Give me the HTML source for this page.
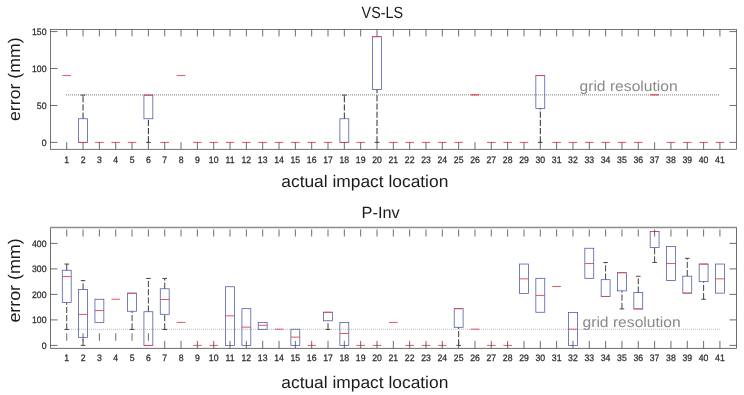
<!DOCTYPE html>
<html><head><meta charset="utf-8"><title>VS-LS / P-Inv error box plots</title>
<style>
html,body{margin:0;padding:0;background:#fff;}
body{width:744px;height:395px;overflow:hidden;}
svg{display:block;font-family:"Liberation Sans",sans-serif;text-rendering:geometricPrecision;}
</style></head><body>
<svg width="744" height="395" viewBox="0 0 744 395">
<rect width="744" height="395" fill="#fff"/>
<line x1="66.00" y1="94.85" x2="720.00" y2="94.85" stroke="#989898" stroke-width="1.1" stroke-dasharray="1 1"/>
<line x1="62.43" y1="75.55" x2="71.03" y2="75.55" stroke="#e2434a" stroke-width="0.9" />
<line x1="83.06" y1="118.76" x2="83.06" y2="95.12" stroke="#2c2c2c" stroke-width="1.0" stroke-dasharray="6.2 2"/>
<line x1="80.76" y1="95.12" x2="85.36" y2="95.12" stroke="#2c2c2c" stroke-width="0.9" />
<rect x="78.61" y="118.76" width="8.90" height="23.64" fill="none" stroke="#4654a4" stroke-width="0.75"/>
<line x1="78.61" y1="142.40" x2="87.51" y2="142.40" stroke="#e2434a" stroke-width="0.9" />
<line x1="95.09" y1="142.40" x2="103.69" y2="142.40" stroke="#e2434a" stroke-width="0.9" />
<line x1="111.42" y1="142.40" x2="120.02" y2="142.40" stroke="#e2434a" stroke-width="0.9" />
<line x1="127.75" y1="142.40" x2="136.35" y2="142.40" stroke="#e2434a" stroke-width="0.9" />
<line x1="148.38" y1="142.40" x2="148.38" y2="118.76" stroke="#2c2c2c" stroke-width="1.0" stroke-dasharray="6.2 2"/>
<line x1="146.08" y1="142.40" x2="150.68" y2="142.40" stroke="#2c2c2c" stroke-width="0.9" />
<rect x="143.93" y="95.12" width="8.90" height="23.64" fill="none" stroke="#4654a4" stroke-width="0.75"/>
<line x1="143.93" y1="95.12" x2="152.83" y2="95.12" stroke="#e2434a" stroke-width="0.9" />
<line x1="160.41" y1="142.40" x2="169.01" y2="142.40" stroke="#e2434a" stroke-width="0.9" />
<line x1="176.74" y1="75.55" x2="185.34" y2="75.55" stroke="#e2434a" stroke-width="0.9" />
<line x1="193.07" y1="142.40" x2="201.67" y2="142.40" stroke="#e2434a" stroke-width="0.9" />
<line x1="209.40" y1="142.40" x2="218.00" y2="142.40" stroke="#e2434a" stroke-width="0.9" />
<line x1="225.73" y1="142.40" x2="234.33" y2="142.40" stroke="#e2434a" stroke-width="0.9" />
<line x1="242.06" y1="142.40" x2="250.66" y2="142.40" stroke="#e2434a" stroke-width="0.9" />
<line x1="258.39" y1="142.40" x2="266.99" y2="142.40" stroke="#e2434a" stroke-width="0.9" />
<line x1="274.72" y1="142.40" x2="283.32" y2="142.40" stroke="#e2434a" stroke-width="0.9" />
<line x1="291.05" y1="142.40" x2="299.65" y2="142.40" stroke="#e2434a" stroke-width="0.9" />
<line x1="307.38" y1="142.40" x2="315.98" y2="142.40" stroke="#e2434a" stroke-width="0.9" />
<line x1="323.71" y1="142.40" x2="332.31" y2="142.40" stroke="#e2434a" stroke-width="0.9" />
<line x1="344.34" y1="118.76" x2="344.34" y2="95.12" stroke="#2c2c2c" stroke-width="1.0" stroke-dasharray="6.2 2"/>
<line x1="342.04" y1="95.12" x2="346.64" y2="95.12" stroke="#2c2c2c" stroke-width="0.9" />
<rect x="339.89" y="118.76" width="8.90" height="23.64" fill="none" stroke="#4654a4" stroke-width="0.75"/>
<line x1="339.89" y1="142.40" x2="348.79" y2="142.40" stroke="#e2434a" stroke-width="0.9" />
<line x1="356.37" y1="142.40" x2="364.97" y2="142.40" stroke="#e2434a" stroke-width="0.9" />
<line x1="377.00" y1="142.40" x2="377.00" y2="89.55" stroke="#2c2c2c" stroke-width="1.0" stroke-dasharray="6.2 2"/>
<line x1="374.70" y1="142.40" x2="379.30" y2="142.40" stroke="#2c2c2c" stroke-width="0.9" />
<rect x="372.55" y="36.69" width="8.90" height="52.85" fill="none" stroke="#4654a4" stroke-width="0.75"/>
<line x1="372.55" y1="36.69" x2="381.45" y2="36.69" stroke="#e2434a" stroke-width="0.9" />
<line x1="389.03" y1="142.40" x2="397.63" y2="142.40" stroke="#e2434a" stroke-width="0.9" />
<line x1="405.36" y1="142.40" x2="413.96" y2="142.40" stroke="#e2434a" stroke-width="0.9" />
<line x1="421.69" y1="142.40" x2="430.29" y2="142.40" stroke="#e2434a" stroke-width="0.9" />
<line x1="438.02" y1="142.40" x2="446.62" y2="142.40" stroke="#e2434a" stroke-width="0.9" />
<line x1="454.35" y1="142.40" x2="462.95" y2="142.40" stroke="#e2434a" stroke-width="0.9" />
<line x1="470.68" y1="94.85" x2="479.28" y2="94.85" stroke="#e2434a" stroke-width="1.3" />
<line x1="487.01" y1="142.40" x2="495.61" y2="142.40" stroke="#e2434a" stroke-width="0.9" />
<line x1="503.34" y1="142.40" x2="511.94" y2="142.40" stroke="#e2434a" stroke-width="0.9" />
<line x1="519.67" y1="142.40" x2="528.27" y2="142.40" stroke="#e2434a" stroke-width="0.9" />
<line x1="540.30" y1="142.40" x2="540.30" y2="108.42" stroke="#2c2c2c" stroke-width="1.0" stroke-dasharray="6.2 2"/>
<line x1="538.00" y1="142.40" x2="542.60" y2="142.40" stroke="#2c2c2c" stroke-width="0.9" />
<rect x="535.85" y="75.55" width="8.90" height="32.87" fill="none" stroke="#4654a4" stroke-width="0.75"/>
<line x1="535.85" y1="75.55" x2="544.75" y2="75.55" stroke="#e2434a" stroke-width="0.9" />
<line x1="552.33" y1="142.40" x2="560.93" y2="142.40" stroke="#e2434a" stroke-width="0.9" />
<line x1="568.66" y1="142.40" x2="577.26" y2="142.40" stroke="#e2434a" stroke-width="0.9" />
<line x1="584.99" y1="142.40" x2="593.59" y2="142.40" stroke="#e2434a" stroke-width="0.9" />
<line x1="601.32" y1="142.40" x2="609.92" y2="142.40" stroke="#e2434a" stroke-width="0.9" />
<line x1="617.65" y1="142.40" x2="626.25" y2="142.40" stroke="#e2434a" stroke-width="0.9" />
<line x1="633.98" y1="142.40" x2="642.58" y2="142.40" stroke="#e2434a" stroke-width="0.9" />
<line x1="650.31" y1="94.85" x2="658.91" y2="94.85" stroke="#e2434a" stroke-width="1.3" />
<line x1="666.64" y1="142.40" x2="675.24" y2="142.40" stroke="#e2434a" stroke-width="0.9" />
<line x1="682.97" y1="142.40" x2="691.57" y2="142.40" stroke="#e2434a" stroke-width="0.9" />
<line x1="699.30" y1="142.40" x2="707.90" y2="142.40" stroke="#e2434a" stroke-width="0.9" />
<line x1="715.63" y1="142.40" x2="724.23" y2="142.40" stroke="#e2434a" stroke-width="0.9" />
<line x1="66.73" y1="29.40" x2="66.73" y2="36.45" stroke="#484848" stroke-width="0.8" />
<line x1="66.73" y1="149.30" x2="66.73" y2="142.20" stroke="#484848" stroke-width="0.8" />
<text transform="translate(66.73,162.70) scale(0.935,1)" font-size="9.3" text-anchor="middle" fill="#2a2a2a" stroke="#2a2a2a" stroke-width="0.25">1</text>
<line x1="83.06" y1="29.40" x2="83.06" y2="36.45" stroke="#484848" stroke-width="0.8" />
<line x1="83.06" y1="149.30" x2="83.06" y2="142.20" stroke="#484848" stroke-width="0.8" />
<text transform="translate(83.06,162.70) scale(0.935,1)" font-size="9.3" text-anchor="middle" fill="#2a2a2a" stroke="#2a2a2a" stroke-width="0.25">2</text>
<line x1="99.39" y1="29.40" x2="99.39" y2="36.45" stroke="#484848" stroke-width="0.8" />
<line x1="99.39" y1="149.30" x2="99.39" y2="142.20" stroke="#484848" stroke-width="0.8" />
<text transform="translate(99.39,162.70) scale(0.935,1)" font-size="9.3" text-anchor="middle" fill="#2a2a2a" stroke="#2a2a2a" stroke-width="0.25">3</text>
<line x1="115.72" y1="29.40" x2="115.72" y2="36.45" stroke="#484848" stroke-width="0.8" />
<line x1="115.72" y1="149.30" x2="115.72" y2="142.20" stroke="#484848" stroke-width="0.8" />
<text transform="translate(115.72,162.70) scale(0.935,1)" font-size="9.3" text-anchor="middle" fill="#2a2a2a" stroke="#2a2a2a" stroke-width="0.25">4</text>
<line x1="132.05" y1="29.40" x2="132.05" y2="36.45" stroke="#484848" stroke-width="0.8" />
<line x1="132.05" y1="149.30" x2="132.05" y2="142.20" stroke="#484848" stroke-width="0.8" />
<text transform="translate(132.05,162.70) scale(0.935,1)" font-size="9.3" text-anchor="middle" fill="#2a2a2a" stroke="#2a2a2a" stroke-width="0.25">5</text>
<line x1="148.38" y1="29.40" x2="148.38" y2="36.45" stroke="#484848" stroke-width="0.8" />
<line x1="148.38" y1="149.30" x2="148.38" y2="142.20" stroke="#484848" stroke-width="0.8" />
<text transform="translate(148.38,162.70) scale(0.935,1)" font-size="9.3" text-anchor="middle" fill="#2a2a2a" stroke="#2a2a2a" stroke-width="0.25">6</text>
<line x1="164.71" y1="29.40" x2="164.71" y2="36.45" stroke="#484848" stroke-width="0.8" />
<line x1="164.71" y1="149.30" x2="164.71" y2="142.20" stroke="#484848" stroke-width="0.8" />
<text transform="translate(164.71,162.70) scale(0.935,1)" font-size="9.3" text-anchor="middle" fill="#2a2a2a" stroke="#2a2a2a" stroke-width="0.25">7</text>
<line x1="181.04" y1="29.40" x2="181.04" y2="36.45" stroke="#484848" stroke-width="0.8" />
<line x1="181.04" y1="149.30" x2="181.04" y2="142.20" stroke="#484848" stroke-width="0.8" />
<text transform="translate(181.04,162.70) scale(0.935,1)" font-size="9.3" text-anchor="middle" fill="#2a2a2a" stroke="#2a2a2a" stroke-width="0.25">8</text>
<line x1="197.37" y1="29.40" x2="197.37" y2="36.45" stroke="#484848" stroke-width="0.8" />
<line x1="197.37" y1="149.30" x2="197.37" y2="142.20" stroke="#484848" stroke-width="0.8" />
<text transform="translate(197.37,162.70) scale(0.935,1)" font-size="9.3" text-anchor="middle" fill="#2a2a2a" stroke="#2a2a2a" stroke-width="0.25">9</text>
<line x1="213.70" y1="29.40" x2="213.70" y2="36.45" stroke="#484848" stroke-width="0.8" />
<line x1="213.70" y1="149.30" x2="213.70" y2="142.20" stroke="#484848" stroke-width="0.8" />
<text transform="translate(213.70,162.70) scale(0.935,1)" font-size="9.3" text-anchor="middle" fill="#2a2a2a" stroke="#2a2a2a" stroke-width="0.25">10</text>
<line x1="230.03" y1="29.40" x2="230.03" y2="36.45" stroke="#484848" stroke-width="0.8" />
<line x1="230.03" y1="149.30" x2="230.03" y2="142.20" stroke="#484848" stroke-width="0.8" />
<text transform="translate(230.03,162.70) scale(0.935,1)" font-size="9.3" text-anchor="middle" fill="#2a2a2a" stroke="#2a2a2a" stroke-width="0.25">11</text>
<line x1="246.36" y1="29.40" x2="246.36" y2="36.45" stroke="#484848" stroke-width="0.8" />
<line x1="246.36" y1="149.30" x2="246.36" y2="142.20" stroke="#484848" stroke-width="0.8" />
<text transform="translate(246.36,162.70) scale(0.935,1)" font-size="9.3" text-anchor="middle" fill="#2a2a2a" stroke="#2a2a2a" stroke-width="0.25">12</text>
<line x1="262.69" y1="29.40" x2="262.69" y2="36.45" stroke="#484848" stroke-width="0.8" />
<line x1="262.69" y1="149.30" x2="262.69" y2="142.20" stroke="#484848" stroke-width="0.8" />
<text transform="translate(262.69,162.70) scale(0.935,1)" font-size="9.3" text-anchor="middle" fill="#2a2a2a" stroke="#2a2a2a" stroke-width="0.25">13</text>
<line x1="279.02" y1="29.40" x2="279.02" y2="36.45" stroke="#484848" stroke-width="0.8" />
<line x1="279.02" y1="149.30" x2="279.02" y2="142.20" stroke="#484848" stroke-width="0.8" />
<text transform="translate(279.02,162.70) scale(0.935,1)" font-size="9.3" text-anchor="middle" fill="#2a2a2a" stroke="#2a2a2a" stroke-width="0.25">14</text>
<line x1="295.35" y1="29.40" x2="295.35" y2="36.45" stroke="#484848" stroke-width="0.8" />
<line x1="295.35" y1="149.30" x2="295.35" y2="142.20" stroke="#484848" stroke-width="0.8" />
<text transform="translate(295.35,162.70) scale(0.935,1)" font-size="9.3" text-anchor="middle" fill="#2a2a2a" stroke="#2a2a2a" stroke-width="0.25">15</text>
<line x1="311.68" y1="29.40" x2="311.68" y2="36.45" stroke="#484848" stroke-width="0.8" />
<line x1="311.68" y1="149.30" x2="311.68" y2="142.20" stroke="#484848" stroke-width="0.8" />
<text transform="translate(311.68,162.70) scale(0.935,1)" font-size="9.3" text-anchor="middle" fill="#2a2a2a" stroke="#2a2a2a" stroke-width="0.25">16</text>
<line x1="328.01" y1="29.40" x2="328.01" y2="36.45" stroke="#484848" stroke-width="0.8" />
<line x1="328.01" y1="149.30" x2="328.01" y2="142.20" stroke="#484848" stroke-width="0.8" />
<text transform="translate(328.01,162.70) scale(0.935,1)" font-size="9.3" text-anchor="middle" fill="#2a2a2a" stroke="#2a2a2a" stroke-width="0.25">17</text>
<line x1="344.34" y1="29.40" x2="344.34" y2="36.45" stroke="#484848" stroke-width="0.8" />
<line x1="344.34" y1="149.30" x2="344.34" y2="142.20" stroke="#484848" stroke-width="0.8" />
<text transform="translate(344.34,162.70) scale(0.935,1)" font-size="9.3" text-anchor="middle" fill="#2a2a2a" stroke="#2a2a2a" stroke-width="0.25">18</text>
<line x1="360.67" y1="29.40" x2="360.67" y2="36.45" stroke="#484848" stroke-width="0.8" />
<line x1="360.67" y1="149.30" x2="360.67" y2="142.20" stroke="#484848" stroke-width="0.8" />
<text transform="translate(360.67,162.70) scale(0.935,1)" font-size="9.3" text-anchor="middle" fill="#2a2a2a" stroke="#2a2a2a" stroke-width="0.25">19</text>
<line x1="377.00" y1="29.40" x2="377.00" y2="36.45" stroke="#484848" stroke-width="0.8" />
<line x1="377.00" y1="149.30" x2="377.00" y2="142.20" stroke="#484848" stroke-width="0.8" />
<text transform="translate(377.00,162.70) scale(0.935,1)" font-size="9.3" text-anchor="middle" fill="#2a2a2a" stroke="#2a2a2a" stroke-width="0.25">20</text>
<line x1="393.33" y1="29.40" x2="393.33" y2="36.45" stroke="#484848" stroke-width="0.8" />
<line x1="393.33" y1="149.30" x2="393.33" y2="142.20" stroke="#484848" stroke-width="0.8" />
<text transform="translate(393.33,162.70) scale(0.935,1)" font-size="9.3" text-anchor="middle" fill="#2a2a2a" stroke="#2a2a2a" stroke-width="0.25">21</text>
<line x1="409.66" y1="29.40" x2="409.66" y2="36.45" stroke="#484848" stroke-width="0.8" />
<line x1="409.66" y1="149.30" x2="409.66" y2="142.20" stroke="#484848" stroke-width="0.8" />
<text transform="translate(409.66,162.70) scale(0.935,1)" font-size="9.3" text-anchor="middle" fill="#2a2a2a" stroke="#2a2a2a" stroke-width="0.25">22</text>
<line x1="425.99" y1="29.40" x2="425.99" y2="36.45" stroke="#484848" stroke-width="0.8" />
<line x1="425.99" y1="149.30" x2="425.99" y2="142.20" stroke="#484848" stroke-width="0.8" />
<text transform="translate(425.99,162.70) scale(0.935,1)" font-size="9.3" text-anchor="middle" fill="#2a2a2a" stroke="#2a2a2a" stroke-width="0.25">23</text>
<line x1="442.32" y1="29.40" x2="442.32" y2="36.45" stroke="#484848" stroke-width="0.8" />
<line x1="442.32" y1="149.30" x2="442.32" y2="142.20" stroke="#484848" stroke-width="0.8" />
<text transform="translate(442.32,162.70) scale(0.935,1)" font-size="9.3" text-anchor="middle" fill="#2a2a2a" stroke="#2a2a2a" stroke-width="0.25">24</text>
<line x1="458.65" y1="29.40" x2="458.65" y2="36.45" stroke="#484848" stroke-width="0.8" />
<line x1="458.65" y1="149.30" x2="458.65" y2="142.20" stroke="#484848" stroke-width="0.8" />
<text transform="translate(458.65,162.70) scale(0.935,1)" font-size="9.3" text-anchor="middle" fill="#2a2a2a" stroke="#2a2a2a" stroke-width="0.25">25</text>
<line x1="474.98" y1="29.40" x2="474.98" y2="36.45" stroke="#484848" stroke-width="0.8" />
<line x1="474.98" y1="149.30" x2="474.98" y2="142.20" stroke="#484848" stroke-width="0.8" />
<text transform="translate(474.98,162.70) scale(0.935,1)" font-size="9.3" text-anchor="middle" fill="#2a2a2a" stroke="#2a2a2a" stroke-width="0.25">26</text>
<line x1="491.31" y1="29.40" x2="491.31" y2="36.45" stroke="#484848" stroke-width="0.8" />
<line x1="491.31" y1="149.30" x2="491.31" y2="142.20" stroke="#484848" stroke-width="0.8" />
<text transform="translate(491.31,162.70) scale(0.935,1)" font-size="9.3" text-anchor="middle" fill="#2a2a2a" stroke="#2a2a2a" stroke-width="0.25">27</text>
<line x1="507.64" y1="29.40" x2="507.64" y2="36.45" stroke="#484848" stroke-width="0.8" />
<line x1="507.64" y1="149.30" x2="507.64" y2="142.20" stroke="#484848" stroke-width="0.8" />
<text transform="translate(507.64,162.70) scale(0.935,1)" font-size="9.3" text-anchor="middle" fill="#2a2a2a" stroke="#2a2a2a" stroke-width="0.25">28</text>
<line x1="523.97" y1="29.40" x2="523.97" y2="36.45" stroke="#484848" stroke-width="0.8" />
<line x1="523.97" y1="149.30" x2="523.97" y2="142.20" stroke="#484848" stroke-width="0.8" />
<text transform="translate(523.97,162.70) scale(0.935,1)" font-size="9.3" text-anchor="middle" fill="#2a2a2a" stroke="#2a2a2a" stroke-width="0.25">29</text>
<line x1="540.30" y1="29.40" x2="540.30" y2="36.45" stroke="#484848" stroke-width="0.8" />
<line x1="540.30" y1="149.30" x2="540.30" y2="142.20" stroke="#484848" stroke-width="0.8" />
<text transform="translate(540.30,162.70) scale(0.935,1)" font-size="9.3" text-anchor="middle" fill="#2a2a2a" stroke="#2a2a2a" stroke-width="0.25">30</text>
<line x1="556.63" y1="29.40" x2="556.63" y2="36.45" stroke="#484848" stroke-width="0.8" />
<line x1="556.63" y1="149.30" x2="556.63" y2="142.20" stroke="#484848" stroke-width="0.8" />
<text transform="translate(556.63,162.70) scale(0.935,1)" font-size="9.3" text-anchor="middle" fill="#2a2a2a" stroke="#2a2a2a" stroke-width="0.25">31</text>
<line x1="572.96" y1="29.40" x2="572.96" y2="36.45" stroke="#484848" stroke-width="0.8" />
<line x1="572.96" y1="149.30" x2="572.96" y2="142.20" stroke="#484848" stroke-width="0.8" />
<text transform="translate(572.96,162.70) scale(0.935,1)" font-size="9.3" text-anchor="middle" fill="#2a2a2a" stroke="#2a2a2a" stroke-width="0.25">32</text>
<line x1="589.29" y1="29.40" x2="589.29" y2="36.45" stroke="#484848" stroke-width="0.8" />
<line x1="589.29" y1="149.30" x2="589.29" y2="142.20" stroke="#484848" stroke-width="0.8" />
<text transform="translate(589.29,162.70) scale(0.935,1)" font-size="9.3" text-anchor="middle" fill="#2a2a2a" stroke="#2a2a2a" stroke-width="0.25">33</text>
<line x1="605.62" y1="29.40" x2="605.62" y2="36.45" stroke="#484848" stroke-width="0.8" />
<line x1="605.62" y1="149.30" x2="605.62" y2="142.20" stroke="#484848" stroke-width="0.8" />
<text transform="translate(605.62,162.70) scale(0.935,1)" font-size="9.3" text-anchor="middle" fill="#2a2a2a" stroke="#2a2a2a" stroke-width="0.25">34</text>
<line x1="621.95" y1="29.40" x2="621.95" y2="36.45" stroke="#484848" stroke-width="0.8" />
<line x1="621.95" y1="149.30" x2="621.95" y2="142.20" stroke="#484848" stroke-width="0.8" />
<text transform="translate(621.95,162.70) scale(0.935,1)" font-size="9.3" text-anchor="middle" fill="#2a2a2a" stroke="#2a2a2a" stroke-width="0.25">35</text>
<line x1="638.28" y1="29.40" x2="638.28" y2="36.45" stroke="#484848" stroke-width="0.8" />
<line x1="638.28" y1="149.30" x2="638.28" y2="142.20" stroke="#484848" stroke-width="0.8" />
<text transform="translate(638.28,162.70) scale(0.935,1)" font-size="9.3" text-anchor="middle" fill="#2a2a2a" stroke="#2a2a2a" stroke-width="0.25">36</text>
<line x1="654.61" y1="29.40" x2="654.61" y2="36.45" stroke="#484848" stroke-width="0.8" />
<line x1="654.61" y1="149.30" x2="654.61" y2="142.20" stroke="#484848" stroke-width="0.8" />
<text transform="translate(654.61,162.70) scale(0.935,1)" font-size="9.3" text-anchor="middle" fill="#2a2a2a" stroke="#2a2a2a" stroke-width="0.25">37</text>
<line x1="670.94" y1="29.40" x2="670.94" y2="36.45" stroke="#484848" stroke-width="0.8" />
<line x1="670.94" y1="149.30" x2="670.94" y2="142.20" stroke="#484848" stroke-width="0.8" />
<text transform="translate(670.94,162.70) scale(0.935,1)" font-size="9.3" text-anchor="middle" fill="#2a2a2a" stroke="#2a2a2a" stroke-width="0.25">38</text>
<line x1="687.27" y1="29.40" x2="687.27" y2="36.45" stroke="#484848" stroke-width="0.8" />
<line x1="687.27" y1="149.30" x2="687.27" y2="142.20" stroke="#484848" stroke-width="0.8" />
<text transform="translate(687.27,162.70) scale(0.935,1)" font-size="9.3" text-anchor="middle" fill="#2a2a2a" stroke="#2a2a2a" stroke-width="0.25">39</text>
<line x1="703.60" y1="29.40" x2="703.60" y2="36.45" stroke="#484848" stroke-width="0.8" />
<line x1="703.60" y1="149.30" x2="703.60" y2="142.20" stroke="#484848" stroke-width="0.8" />
<text transform="translate(703.60,162.70) scale(0.935,1)" font-size="9.3" text-anchor="middle" fill="#2a2a2a" stroke="#2a2a2a" stroke-width="0.25">40</text>
<line x1="719.93" y1="29.40" x2="719.93" y2="36.45" stroke="#484848" stroke-width="0.8" />
<line x1="719.93" y1="149.30" x2="719.93" y2="142.20" stroke="#484848" stroke-width="0.8" />
<text transform="translate(719.93,162.70) scale(0.935,1)" font-size="9.3" text-anchor="middle" fill="#2a2a2a" stroke="#2a2a2a" stroke-width="0.25">41</text>
<line x1="50.50" y1="142.40" x2="57.50" y2="142.40" stroke="#484848" stroke-width="0.8" />
<line x1="736.50" y1="142.40" x2="729.50" y2="142.40" stroke="#484848" stroke-width="0.8" />
<text transform="translate(46.50,145.75) scale(0.935,1)" font-size="9.3" text-anchor="end" fill="#2a2a2a" stroke="#2a2a2a" stroke-width="0.25">0</text>
<line x1="50.50" y1="105.47" x2="57.50" y2="105.47" stroke="#484848" stroke-width="0.8" />
<line x1="736.50" y1="105.47" x2="729.50" y2="105.47" stroke="#484848" stroke-width="0.8" />
<text transform="translate(46.50,108.81) scale(0.935,1)" font-size="9.3" text-anchor="end" fill="#2a2a2a" stroke="#2a2a2a" stroke-width="0.25">50</text>
<line x1="50.50" y1="68.53" x2="57.50" y2="68.53" stroke="#484848" stroke-width="0.8" />
<line x1="736.50" y1="68.53" x2="729.50" y2="68.53" stroke="#484848" stroke-width="0.8" />
<text transform="translate(46.50,71.88) scale(0.935,1)" font-size="9.3" text-anchor="end" fill="#2a2a2a" stroke="#2a2a2a" stroke-width="0.25">100</text>
<line x1="50.50" y1="31.59" x2="57.50" y2="31.59" stroke="#484848" stroke-width="0.8" />
<line x1="736.50" y1="31.59" x2="729.50" y2="31.59" stroke="#484848" stroke-width="0.8" />
<text transform="translate(46.50,34.95) scale(0.935,1)" font-size="9.3" text-anchor="end" fill="#2a2a2a" stroke="#2a2a2a" stroke-width="0.25">150</text>
<rect x="50.50" y="29.40" width="686.00" height="119.90" fill="none" stroke="#484848" stroke-width="0.75"/>
<line x1="65.00" y1="329.30" x2="720.00" y2="329.30" stroke="#b0b0b8" stroke-width="0.9" stroke-dasharray="1 1"/>
<line x1="66.73" y1="329.46" x2="66.73" y2="302.41" stroke="#2c2c2c" stroke-width="0.9" stroke-dasharray="6.2 2"/>
<line x1="64.43" y1="329.46" x2="69.03" y2="329.46" stroke="#2c2c2c" stroke-width="0.85" />
<line x1="66.73" y1="270.25" x2="66.73" y2="264.05" stroke="#2c2c2c" stroke-width="0.9" stroke-dasharray="6.2 2"/>
<line x1="64.43" y1="264.05" x2="69.03" y2="264.05" stroke="#2c2c2c" stroke-width="0.85" />
<rect x="62.28" y="270.25" width="8.90" height="32.16" fill="none" stroke="#4654a4" stroke-width="0.75"/>
<line x1="62.28" y1="276.55" x2="71.18" y2="276.55" stroke="#e2434a" stroke-width="0.9" />
<line x1="83.06" y1="345.40" x2="83.06" y2="337.34" stroke="#2c2c2c" stroke-width="0.9" stroke-dasharray="6.2 2"/>
<line x1="80.76" y1="345.40" x2="85.36" y2="345.40" stroke="#2c2c2c" stroke-width="0.85" />
<line x1="83.06" y1="289.55" x2="83.06" y2="280.63" stroke="#2c2c2c" stroke-width="0.9" stroke-dasharray="6.2 2"/>
<line x1="80.76" y1="280.63" x2="85.36" y2="280.63" stroke="#2c2c2c" stroke-width="0.85" />
<rect x="78.61" y="289.55" width="8.90" height="47.79" fill="none" stroke="#4654a4" stroke-width="0.75"/>
<line x1="78.61" y1="314.42" x2="87.51" y2="314.42" stroke="#e2434a" stroke-width="0.9" />
<rect x="94.94" y="299.25" width="8.90" height="23.20" fill="none" stroke="#4654a4" stroke-width="0.75"/>
<line x1="94.94" y1="310.59" x2="103.84" y2="310.59" stroke="#e2434a" stroke-width="0.9" />
<line x1="111.42" y1="299.25" x2="120.02" y2="299.25" stroke="#e2434a" stroke-width="0.9" />
<line x1="132.05" y1="329.46" x2="132.05" y2="311.23" stroke="#2c2c2c" stroke-width="0.9" stroke-dasharray="6.2 2"/>
<line x1="129.75" y1="329.46" x2="134.35" y2="329.46" stroke="#2c2c2c" stroke-width="0.85" />
<rect x="127.60" y="293.20" width="8.90" height="18.03" fill="none" stroke="#4654a4" stroke-width="0.75"/>
<line x1="127.60" y1="293.20" x2="136.50" y2="293.20" stroke="#e2434a" stroke-width="0.9" />
<line x1="148.38" y1="311.74" x2="148.38" y2="278.44" stroke="#2c2c2c" stroke-width="0.9" stroke-dasharray="6.2 2"/>
<line x1="146.08" y1="278.44" x2="150.68" y2="278.44" stroke="#2c2c2c" stroke-width="0.85" />
<rect x="143.93" y="311.74" width="8.90" height="33.66" fill="none" stroke="#4654a4" stroke-width="0.75"/>
<line x1="143.93" y1="345.40" x2="152.83" y2="345.40" stroke="#e2434a" stroke-width="0.9" />
<line x1="164.71" y1="329.46" x2="164.71" y2="314.29" stroke="#2c2c2c" stroke-width="0.9" stroke-dasharray="6.2 2"/>
<line x1="162.41" y1="329.46" x2="167.01" y2="329.46" stroke="#2c2c2c" stroke-width="0.85" />
<line x1="164.71" y1="288.79" x2="164.71" y2="278.44" stroke="#2c2c2c" stroke-width="0.9" stroke-dasharray="6.2 2"/>
<line x1="162.41" y1="278.44" x2="167.01" y2="278.44" stroke="#2c2c2c" stroke-width="0.85" />
<rect x="160.26" y="288.79" width="8.90" height="25.50" fill="none" stroke="#4654a4" stroke-width="0.75"/>
<line x1="160.26" y1="299.50" x2="169.16" y2="299.50" stroke="#e2434a" stroke-width="0.9" />
<line x1="176.74" y1="322.45" x2="185.34" y2="322.45" stroke="#e2434a" stroke-width="0.9" />
<line x1="193.07" y1="345.40" x2="201.67" y2="345.40" stroke="#e2434a" stroke-width="0.9" />
<line x1="209.40" y1="345.40" x2="218.00" y2="345.40" stroke="#e2434a" stroke-width="0.9" />
<rect x="225.58" y="286.75" width="8.90" height="58.65" fill="none" stroke="#4654a4" stroke-width="0.75"/>
<line x1="225.58" y1="315.82" x2="234.48" y2="315.82" stroke="#e2434a" stroke-width="0.9" />
<rect x="241.91" y="308.68" width="8.90" height="36.72" fill="none" stroke="#4654a4" stroke-width="0.75"/>
<line x1="241.91" y1="327.14" x2="250.81" y2="327.14" stroke="#e2434a" stroke-width="0.9" />
<rect x="258.24" y="322.45" width="8.90" height="6.88" fill="none" stroke="#4654a4" stroke-width="0.75"/>
<line x1="258.24" y1="325.25" x2="267.14" y2="325.25" stroke="#e2434a" stroke-width="0.9" />
<line x1="274.72" y1="329.21" x2="283.32" y2="329.21" stroke="#e2434a" stroke-width="0.9" />
<rect x="290.90" y="329.21" width="8.90" height="16.19" fill="none" stroke="#4654a4" stroke-width="0.75"/>
<line x1="290.90" y1="337.11" x2="299.80" y2="337.11" stroke="#e2434a" stroke-width="0.9" />
<line x1="307.38" y1="345.40" x2="315.98" y2="345.40" stroke="#e2434a" stroke-width="0.9" />
<line x1="328.01" y1="329.46" x2="328.01" y2="320.79" stroke="#2c2c2c" stroke-width="0.9" stroke-dasharray="6.2 2"/>
<line x1="325.71" y1="329.46" x2="330.31" y2="329.46" stroke="#2c2c2c" stroke-width="0.85" />
<rect x="323.56" y="312.25" width="8.90" height="8.54" fill="none" stroke="#4654a4" stroke-width="0.75"/>
<line x1="323.56" y1="312.25" x2="332.46" y2="312.25" stroke="#e2434a" stroke-width="0.9" />
<rect x="339.89" y="322.45" width="8.90" height="22.95" fill="none" stroke="#4654a4" stroke-width="0.75"/>
<line x1="339.89" y1="333.49" x2="348.79" y2="333.49" stroke="#e2434a" stroke-width="0.9" />
<line x1="356.37" y1="345.40" x2="364.97" y2="345.40" stroke="#e2434a" stroke-width="0.9" />
<line x1="372.70" y1="345.40" x2="381.30" y2="345.40" stroke="#e2434a" stroke-width="0.9" />
<line x1="389.03" y1="322.45" x2="397.63" y2="322.45" stroke="#e2434a" stroke-width="0.9" />
<line x1="405.36" y1="345.40" x2="413.96" y2="345.40" stroke="#e2434a" stroke-width="0.9" />
<line x1="421.69" y1="345.40" x2="430.29" y2="345.40" stroke="#e2434a" stroke-width="0.9" />
<line x1="438.02" y1="345.40" x2="446.62" y2="345.40" stroke="#e2434a" stroke-width="0.9" />
<line x1="458.65" y1="345.40" x2="458.65" y2="327.29" stroke="#2c2c2c" stroke-width="0.9" stroke-dasharray="6.2 2"/>
<line x1="456.35" y1="345.40" x2="460.95" y2="345.40" stroke="#2c2c2c" stroke-width="0.85" />
<rect x="454.20" y="308.68" width="8.90" height="18.62" fill="none" stroke="#4654a4" stroke-width="0.75"/>
<line x1="454.20" y1="308.68" x2="463.10" y2="308.68" stroke="#e2434a" stroke-width="0.9" />
<line x1="470.68" y1="329.21" x2="479.28" y2="329.21" stroke="#e2434a" stroke-width="0.9" />
<line x1="487.01" y1="345.40" x2="495.61" y2="345.40" stroke="#e2434a" stroke-width="0.9" />
<line x1="503.34" y1="345.40" x2="511.94" y2="345.40" stroke="#e2434a" stroke-width="0.9" />
<rect x="519.52" y="264.05" width="8.90" height="29.33" fill="none" stroke="#4654a4" stroke-width="0.75"/>
<line x1="519.52" y1="278.84" x2="528.42" y2="278.84" stroke="#e2434a" stroke-width="0.9" />
<rect x="535.85" y="278.33" width="8.90" height="33.92" fill="none" stroke="#4654a4" stroke-width="0.75"/>
<line x1="535.85" y1="295.42" x2="544.75" y2="295.42" stroke="#e2434a" stroke-width="0.9" />
<line x1="552.33" y1="286.50" x2="560.93" y2="286.50" stroke="#e2434a" stroke-width="0.9" />
<rect x="568.51" y="312.61" width="8.90" height="32.79" fill="none" stroke="#4654a4" stroke-width="0.75"/>
<line x1="568.51" y1="329.21" x2="577.41" y2="329.21" stroke="#e2434a" stroke-width="0.9" />
<rect x="584.84" y="248.24" width="8.90" height="30.09" fill="none" stroke="#4654a4" stroke-width="0.75"/>
<line x1="584.84" y1="263.54" x2="593.74" y2="263.54" stroke="#e2434a" stroke-width="0.9" />
<line x1="605.62" y1="279.69" x2="605.62" y2="262.52" stroke="#2c2c2c" stroke-width="0.9" stroke-dasharray="6.2 2"/>
<line x1="603.32" y1="262.52" x2="607.92" y2="262.52" stroke="#2c2c2c" stroke-width="0.85" />
<rect x="601.17" y="279.69" width="8.90" height="16.75" fill="none" stroke="#4654a4" stroke-width="0.75"/>
<line x1="601.17" y1="296.44" x2="610.07" y2="296.44" stroke="#e2434a" stroke-width="0.9" />
<line x1="621.95" y1="308.93" x2="621.95" y2="290.83" stroke="#2c2c2c" stroke-width="0.9" stroke-dasharray="6.2 2"/>
<line x1="619.65" y1="308.93" x2="624.25" y2="308.93" stroke="#2c2c2c" stroke-width="0.85" />
<rect x="617.50" y="272.72" width="8.90" height="18.11" fill="none" stroke="#4654a4" stroke-width="0.75"/>
<line x1="617.50" y1="272.72" x2="626.40" y2="272.72" stroke="#e2434a" stroke-width="0.9" />
<line x1="638.28" y1="292.61" x2="638.28" y2="276.29" stroke="#2c2c2c" stroke-width="0.9" stroke-dasharray="6.2 2"/>
<line x1="635.98" y1="276.29" x2="640.58" y2="276.29" stroke="#2c2c2c" stroke-width="0.85" />
<rect x="633.83" y="292.61" width="8.90" height="16.32" fill="none" stroke="#4654a4" stroke-width="0.75"/>
<line x1="633.83" y1="308.93" x2="642.73" y2="308.93" stroke="#e2434a" stroke-width="0.9" />
<line x1="654.61" y1="262.52" x2="654.61" y2="247.48" stroke="#2c2c2c" stroke-width="0.9" stroke-dasharray="6.2 2"/>
<line x1="652.31" y1="262.52" x2="656.91" y2="262.52" stroke="#2c2c2c" stroke-width="0.85" />
<rect x="650.16" y="231.52" width="8.90" height="15.96" fill="none" stroke="#4654a4" stroke-width="0.75"/>
<line x1="650.16" y1="231.52" x2="659.06" y2="231.52" stroke="#e2434a" stroke-width="0.9" />
<rect x="666.49" y="246.59" width="8.90" height="33.79" fill="none" stroke="#4654a4" stroke-width="0.75"/>
<line x1="666.49" y1="263.54" x2="675.39" y2="263.54" stroke="#e2434a" stroke-width="0.9" />
<line x1="687.27" y1="276.17" x2="687.27" y2="258.29" stroke="#2c2c2c" stroke-width="0.9" stroke-dasharray="6.2 2"/>
<line x1="684.97" y1="258.29" x2="689.57" y2="258.29" stroke="#2c2c2c" stroke-width="0.85" />
<rect x="682.82" y="276.17" width="8.90" height="16.96" fill="none" stroke="#4654a4" stroke-width="0.75"/>
<line x1="682.82" y1="293.12" x2="691.72" y2="293.12" stroke="#e2434a" stroke-width="0.9" />
<line x1="703.60" y1="299.25" x2="703.60" y2="281.65" stroke="#2c2c2c" stroke-width="0.9" stroke-dasharray="6.2 2"/>
<line x1="701.30" y1="299.25" x2="705.90" y2="299.25" stroke="#2c2c2c" stroke-width="0.85" />
<rect x="699.15" y="264.05" width="8.90" height="17.60" fill="none" stroke="#4654a4" stroke-width="0.75"/>
<line x1="699.15" y1="264.05" x2="708.05" y2="264.05" stroke="#e2434a" stroke-width="0.9" />
<rect x="715.48" y="264.05" width="8.90" height="29.07" fill="none" stroke="#4654a4" stroke-width="0.75"/>
<line x1="715.48" y1="278.84" x2="724.38" y2="278.84" stroke="#e2434a" stroke-width="0.9" />
<line x1="66.73" y1="229.40" x2="66.73" y2="236.50" stroke="#484848" stroke-width="0.8" />
<line x1="66.73" y1="333.30" x2="66.73" y2="340.80" stroke="#484848" stroke-width="0.8" />
<text transform="translate(66.73,361.00) scale(0.935,1)" font-size="9.3" text-anchor="middle" fill="#2a2a2a" stroke="#2a2a2a" stroke-width="0.25">1</text>
<line x1="83.06" y1="229.40" x2="83.06" y2="236.50" stroke="#484848" stroke-width="0.8" />
<line x1="83.06" y1="333.30" x2="83.06" y2="340.80" stroke="#484848" stroke-width="0.8" />
<text transform="translate(83.06,361.00) scale(0.935,1)" font-size="9.3" text-anchor="middle" fill="#2a2a2a" stroke="#2a2a2a" stroke-width="0.25">2</text>
<line x1="99.39" y1="229.40" x2="99.39" y2="236.50" stroke="#484848" stroke-width="0.8" />
<line x1="99.39" y1="333.30" x2="99.39" y2="340.80" stroke="#484848" stroke-width="0.8" />
<text transform="translate(99.39,361.00) scale(0.935,1)" font-size="9.3" text-anchor="middle" fill="#2a2a2a" stroke="#2a2a2a" stroke-width="0.25">3</text>
<line x1="115.72" y1="229.40" x2="115.72" y2="236.50" stroke="#484848" stroke-width="0.8" />
<line x1="115.72" y1="333.30" x2="115.72" y2="340.80" stroke="#484848" stroke-width="0.8" />
<text transform="translate(115.72,361.00) scale(0.935,1)" font-size="9.3" text-anchor="middle" fill="#2a2a2a" stroke="#2a2a2a" stroke-width="0.25">4</text>
<line x1="132.05" y1="229.40" x2="132.05" y2="236.50" stroke="#484848" stroke-width="0.8" />
<line x1="132.05" y1="333.30" x2="132.05" y2="340.80" stroke="#484848" stroke-width="0.8" />
<text transform="translate(132.05,361.00) scale(0.935,1)" font-size="9.3" text-anchor="middle" fill="#2a2a2a" stroke="#2a2a2a" stroke-width="0.25">5</text>
<line x1="148.38" y1="229.40" x2="148.38" y2="236.50" stroke="#484848" stroke-width="0.8" />
<line x1="148.38" y1="333.30" x2="148.38" y2="340.80" stroke="#484848" stroke-width="0.8" />
<text transform="translate(148.38,361.00) scale(0.935,1)" font-size="9.3" text-anchor="middle" fill="#2a2a2a" stroke="#2a2a2a" stroke-width="0.25">6</text>
<line x1="164.71" y1="229.40" x2="164.71" y2="236.50" stroke="#484848" stroke-width="0.8" />
<line x1="164.71" y1="340.90" x2="164.71" y2="348.40" stroke="#484848" stroke-width="0.8" />
<text transform="translate(164.71,361.00) scale(0.935,1)" font-size="9.3" text-anchor="middle" fill="#2a2a2a" stroke="#2a2a2a" stroke-width="0.25">7</text>
<line x1="181.04" y1="229.40" x2="181.04" y2="236.50" stroke="#484848" stroke-width="0.8" />
<line x1="181.04" y1="340.90" x2="181.04" y2="348.40" stroke="#484848" stroke-width="0.8" />
<text transform="translate(181.04,361.00) scale(0.935,1)" font-size="9.3" text-anchor="middle" fill="#2a2a2a" stroke="#2a2a2a" stroke-width="0.25">8</text>
<line x1="197.37" y1="229.40" x2="197.37" y2="236.50" stroke="#484848" stroke-width="0.8" />
<line x1="197.37" y1="340.90" x2="197.37" y2="348.40" stroke="#484848" stroke-width="0.8" />
<text transform="translate(197.37,361.00) scale(0.935,1)" font-size="9.3" text-anchor="middle" fill="#2a2a2a" stroke="#2a2a2a" stroke-width="0.25">9</text>
<line x1="213.70" y1="229.40" x2="213.70" y2="236.50" stroke="#484848" stroke-width="0.8" />
<line x1="213.70" y1="340.90" x2="213.70" y2="348.40" stroke="#484848" stroke-width="0.8" />
<text transform="translate(213.70,361.00) scale(0.935,1)" font-size="9.3" text-anchor="middle" fill="#2a2a2a" stroke="#2a2a2a" stroke-width="0.25">10</text>
<line x1="230.03" y1="229.40" x2="230.03" y2="236.50" stroke="#484848" stroke-width="0.8" />
<line x1="230.03" y1="340.90" x2="230.03" y2="348.40" stroke="#484848" stroke-width="0.8" />
<text transform="translate(230.03,361.00) scale(0.935,1)" font-size="9.3" text-anchor="middle" fill="#2a2a2a" stroke="#2a2a2a" stroke-width="0.25">11</text>
<line x1="246.36" y1="229.40" x2="246.36" y2="236.50" stroke="#484848" stroke-width="0.8" />
<line x1="246.36" y1="340.90" x2="246.36" y2="348.40" stroke="#484848" stroke-width="0.8" />
<text transform="translate(246.36,361.00) scale(0.935,1)" font-size="9.3" text-anchor="middle" fill="#2a2a2a" stroke="#2a2a2a" stroke-width="0.25">12</text>
<line x1="262.69" y1="229.40" x2="262.69" y2="236.50" stroke="#484848" stroke-width="0.8" />
<line x1="262.69" y1="340.90" x2="262.69" y2="348.40" stroke="#484848" stroke-width="0.8" />
<text transform="translate(262.69,361.00) scale(0.935,1)" font-size="9.3" text-anchor="middle" fill="#2a2a2a" stroke="#2a2a2a" stroke-width="0.25">13</text>
<line x1="279.02" y1="229.40" x2="279.02" y2="236.50" stroke="#484848" stroke-width="0.8" />
<line x1="279.02" y1="340.90" x2="279.02" y2="348.40" stroke="#484848" stroke-width="0.8" />
<text transform="translate(279.02,361.00) scale(0.935,1)" font-size="9.3" text-anchor="middle" fill="#2a2a2a" stroke="#2a2a2a" stroke-width="0.25">14</text>
<line x1="295.35" y1="229.40" x2="295.35" y2="236.50" stroke="#484848" stroke-width="0.8" />
<line x1="295.35" y1="340.90" x2="295.35" y2="348.40" stroke="#484848" stroke-width="0.8" />
<text transform="translate(295.35,361.00) scale(0.935,1)" font-size="9.3" text-anchor="middle" fill="#2a2a2a" stroke="#2a2a2a" stroke-width="0.25">15</text>
<line x1="311.68" y1="229.40" x2="311.68" y2="236.50" stroke="#484848" stroke-width="0.8" />
<line x1="311.68" y1="340.90" x2="311.68" y2="348.40" stroke="#484848" stroke-width="0.8" />
<text transform="translate(311.68,361.00) scale(0.935,1)" font-size="9.3" text-anchor="middle" fill="#2a2a2a" stroke="#2a2a2a" stroke-width="0.25">16</text>
<line x1="328.01" y1="229.40" x2="328.01" y2="236.50" stroke="#484848" stroke-width="0.8" />
<line x1="328.01" y1="340.90" x2="328.01" y2="348.40" stroke="#484848" stroke-width="0.8" />
<text transform="translate(328.01,361.00) scale(0.935,1)" font-size="9.3" text-anchor="middle" fill="#2a2a2a" stroke="#2a2a2a" stroke-width="0.25">17</text>
<line x1="344.34" y1="229.40" x2="344.34" y2="236.50" stroke="#484848" stroke-width="0.8" />
<line x1="344.34" y1="340.90" x2="344.34" y2="348.40" stroke="#484848" stroke-width="0.8" />
<text transform="translate(344.34,361.00) scale(0.935,1)" font-size="9.3" text-anchor="middle" fill="#2a2a2a" stroke="#2a2a2a" stroke-width="0.25">18</text>
<line x1="360.67" y1="229.40" x2="360.67" y2="236.50" stroke="#484848" stroke-width="0.8" />
<line x1="360.67" y1="340.90" x2="360.67" y2="348.40" stroke="#484848" stroke-width="0.8" />
<text transform="translate(360.67,361.00) scale(0.935,1)" font-size="9.3" text-anchor="middle" fill="#2a2a2a" stroke="#2a2a2a" stroke-width="0.25">19</text>
<line x1="377.00" y1="229.40" x2="377.00" y2="236.50" stroke="#484848" stroke-width="0.8" />
<line x1="377.00" y1="340.90" x2="377.00" y2="348.40" stroke="#484848" stroke-width="0.8" />
<text transform="translate(377.00,361.00) scale(0.935,1)" font-size="9.3" text-anchor="middle" fill="#2a2a2a" stroke="#2a2a2a" stroke-width="0.25">20</text>
<line x1="393.33" y1="229.40" x2="393.33" y2="236.50" stroke="#484848" stroke-width="0.8" />
<line x1="393.33" y1="340.90" x2="393.33" y2="348.40" stroke="#484848" stroke-width="0.8" />
<text transform="translate(393.33,361.00) scale(0.935,1)" font-size="9.3" text-anchor="middle" fill="#2a2a2a" stroke="#2a2a2a" stroke-width="0.25">21</text>
<line x1="409.66" y1="229.40" x2="409.66" y2="236.50" stroke="#484848" stroke-width="0.8" />
<line x1="409.66" y1="340.90" x2="409.66" y2="348.40" stroke="#484848" stroke-width="0.8" />
<text transform="translate(409.66,361.00) scale(0.935,1)" font-size="9.3" text-anchor="middle" fill="#2a2a2a" stroke="#2a2a2a" stroke-width="0.25">22</text>
<line x1="425.99" y1="229.40" x2="425.99" y2="236.50" stroke="#484848" stroke-width="0.8" />
<line x1="425.99" y1="340.90" x2="425.99" y2="348.40" stroke="#484848" stroke-width="0.8" />
<text transform="translate(425.99,361.00) scale(0.935,1)" font-size="9.3" text-anchor="middle" fill="#2a2a2a" stroke="#2a2a2a" stroke-width="0.25">23</text>
<line x1="442.32" y1="229.40" x2="442.32" y2="236.50" stroke="#484848" stroke-width="0.8" />
<line x1="442.32" y1="340.90" x2="442.32" y2="348.40" stroke="#484848" stroke-width="0.8" />
<text transform="translate(442.32,361.00) scale(0.935,1)" font-size="9.3" text-anchor="middle" fill="#2a2a2a" stroke="#2a2a2a" stroke-width="0.25">24</text>
<line x1="458.65" y1="229.40" x2="458.65" y2="236.50" stroke="#484848" stroke-width="0.8" />
<line x1="458.65" y1="340.90" x2="458.65" y2="348.40" stroke="#484848" stroke-width="0.8" />
<text transform="translate(458.65,361.00) scale(0.935,1)" font-size="9.3" text-anchor="middle" fill="#2a2a2a" stroke="#2a2a2a" stroke-width="0.25">25</text>
<line x1="474.98" y1="229.40" x2="474.98" y2="236.50" stroke="#484848" stroke-width="0.8" />
<line x1="474.98" y1="340.90" x2="474.98" y2="348.40" stroke="#484848" stroke-width="0.8" />
<text transform="translate(474.98,361.00) scale(0.935,1)" font-size="9.3" text-anchor="middle" fill="#2a2a2a" stroke="#2a2a2a" stroke-width="0.25">26</text>
<line x1="491.31" y1="229.40" x2="491.31" y2="236.50" stroke="#484848" stroke-width="0.8" />
<line x1="491.31" y1="340.90" x2="491.31" y2="348.40" stroke="#484848" stroke-width="0.8" />
<text transform="translate(491.31,361.00) scale(0.935,1)" font-size="9.3" text-anchor="middle" fill="#2a2a2a" stroke="#2a2a2a" stroke-width="0.25">27</text>
<line x1="507.64" y1="229.40" x2="507.64" y2="236.50" stroke="#484848" stroke-width="0.8" />
<line x1="507.64" y1="340.90" x2="507.64" y2="348.40" stroke="#484848" stroke-width="0.8" />
<text transform="translate(507.64,361.00) scale(0.935,1)" font-size="9.3" text-anchor="middle" fill="#2a2a2a" stroke="#2a2a2a" stroke-width="0.25">28</text>
<line x1="523.97" y1="229.40" x2="523.97" y2="236.50" stroke="#484848" stroke-width="0.8" />
<line x1="523.97" y1="340.90" x2="523.97" y2="348.40" stroke="#484848" stroke-width="0.8" />
<text transform="translate(523.97,361.00) scale(0.935,1)" font-size="9.3" text-anchor="middle" fill="#2a2a2a" stroke="#2a2a2a" stroke-width="0.25">29</text>
<line x1="540.30" y1="229.40" x2="540.30" y2="236.50" stroke="#484848" stroke-width="0.8" />
<line x1="540.30" y1="340.90" x2="540.30" y2="348.40" stroke="#484848" stroke-width="0.8" />
<text transform="translate(540.30,361.00) scale(0.935,1)" font-size="9.3" text-anchor="middle" fill="#2a2a2a" stroke="#2a2a2a" stroke-width="0.25">30</text>
<line x1="556.63" y1="229.40" x2="556.63" y2="236.50" stroke="#484848" stroke-width="0.8" />
<line x1="556.63" y1="340.90" x2="556.63" y2="348.40" stroke="#484848" stroke-width="0.8" />
<text transform="translate(556.63,361.00) scale(0.935,1)" font-size="9.3" text-anchor="middle" fill="#2a2a2a" stroke="#2a2a2a" stroke-width="0.25">31</text>
<line x1="572.96" y1="229.40" x2="572.96" y2="236.50" stroke="#484848" stroke-width="0.8" />
<line x1="572.96" y1="340.90" x2="572.96" y2="348.40" stroke="#484848" stroke-width="0.8" />
<text transform="translate(572.96,361.00) scale(0.935,1)" font-size="9.3" text-anchor="middle" fill="#2a2a2a" stroke="#2a2a2a" stroke-width="0.25">32</text>
<line x1="589.29" y1="229.40" x2="589.29" y2="236.50" stroke="#484848" stroke-width="0.8" />
<line x1="589.29" y1="340.90" x2="589.29" y2="348.40" stroke="#484848" stroke-width="0.8" />
<text transform="translate(589.29,361.00) scale(0.935,1)" font-size="9.3" text-anchor="middle" fill="#2a2a2a" stroke="#2a2a2a" stroke-width="0.25">33</text>
<line x1="605.62" y1="229.40" x2="605.62" y2="236.50" stroke="#484848" stroke-width="0.8" />
<line x1="605.62" y1="340.90" x2="605.62" y2="348.40" stroke="#484848" stroke-width="0.8" />
<text transform="translate(605.62,361.00) scale(0.935,1)" font-size="9.3" text-anchor="middle" fill="#2a2a2a" stroke="#2a2a2a" stroke-width="0.25">34</text>
<line x1="621.95" y1="229.40" x2="621.95" y2="236.50" stroke="#484848" stroke-width="0.8" />
<line x1="621.95" y1="340.90" x2="621.95" y2="348.40" stroke="#484848" stroke-width="0.8" />
<text transform="translate(621.95,361.00) scale(0.935,1)" font-size="9.3" text-anchor="middle" fill="#2a2a2a" stroke="#2a2a2a" stroke-width="0.25">35</text>
<line x1="638.28" y1="229.40" x2="638.28" y2="236.50" stroke="#484848" stroke-width="0.8" />
<line x1="638.28" y1="340.90" x2="638.28" y2="348.40" stroke="#484848" stroke-width="0.8" />
<text transform="translate(638.28,361.00) scale(0.935,1)" font-size="9.3" text-anchor="middle" fill="#2a2a2a" stroke="#2a2a2a" stroke-width="0.25">36</text>
<line x1="654.61" y1="229.40" x2="654.61" y2="236.50" stroke="#484848" stroke-width="0.8" />
<line x1="654.61" y1="340.90" x2="654.61" y2="348.40" stroke="#484848" stroke-width="0.8" />
<text transform="translate(654.61,361.00) scale(0.935,1)" font-size="9.3" text-anchor="middle" fill="#2a2a2a" stroke="#2a2a2a" stroke-width="0.25">37</text>
<line x1="670.94" y1="229.40" x2="670.94" y2="236.50" stroke="#484848" stroke-width="0.8" />
<line x1="670.94" y1="340.90" x2="670.94" y2="348.40" stroke="#484848" stroke-width="0.8" />
<text transform="translate(670.94,361.00) scale(0.935,1)" font-size="9.3" text-anchor="middle" fill="#2a2a2a" stroke="#2a2a2a" stroke-width="0.25">38</text>
<line x1="687.27" y1="229.40" x2="687.27" y2="236.50" stroke="#484848" stroke-width="0.8" />
<line x1="687.27" y1="340.90" x2="687.27" y2="348.40" stroke="#484848" stroke-width="0.8" />
<text transform="translate(687.27,361.00) scale(0.935,1)" font-size="9.3" text-anchor="middle" fill="#2a2a2a" stroke="#2a2a2a" stroke-width="0.25">39</text>
<line x1="703.60" y1="229.40" x2="703.60" y2="236.50" stroke="#484848" stroke-width="0.8" />
<line x1="703.60" y1="340.90" x2="703.60" y2="348.40" stroke="#484848" stroke-width="0.8" />
<text transform="translate(703.60,361.00) scale(0.935,1)" font-size="9.3" text-anchor="middle" fill="#2a2a2a" stroke="#2a2a2a" stroke-width="0.25">40</text>
<line x1="719.93" y1="229.40" x2="719.93" y2="236.50" stroke="#484848" stroke-width="0.8" />
<line x1="719.93" y1="340.90" x2="719.93" y2="348.40" stroke="#484848" stroke-width="0.8" />
<text transform="translate(719.93,361.00) scale(0.935,1)" font-size="9.3" text-anchor="middle" fill="#2a2a2a" stroke="#2a2a2a" stroke-width="0.25">41</text>
<line x1="50.50" y1="345.40" x2="57.50" y2="345.40" stroke="#484848" stroke-width="0.8" />
<line x1="736.50" y1="345.40" x2="729.50" y2="345.40" stroke="#484848" stroke-width="0.8" />
<text transform="translate(46.50,348.75) scale(0.935,1)" font-size="9.3" text-anchor="end" fill="#2a2a2a" stroke="#2a2a2a" stroke-width="0.25">0</text>
<line x1="50.50" y1="319.90" x2="57.50" y2="319.90" stroke="#484848" stroke-width="0.8" />
<line x1="736.50" y1="319.90" x2="729.50" y2="319.90" stroke="#484848" stroke-width="0.8" />
<text transform="translate(46.50,323.25) scale(0.935,1)" font-size="9.3" text-anchor="end" fill="#2a2a2a" stroke="#2a2a2a" stroke-width="0.25">100</text>
<line x1="50.50" y1="294.40" x2="57.50" y2="294.40" stroke="#484848" stroke-width="0.8" />
<line x1="736.50" y1="294.40" x2="729.50" y2="294.40" stroke="#484848" stroke-width="0.8" />
<text transform="translate(46.50,297.75) scale(0.935,1)" font-size="9.3" text-anchor="end" fill="#2a2a2a" stroke="#2a2a2a" stroke-width="0.25">200</text>
<line x1="50.50" y1="268.90" x2="57.50" y2="268.90" stroke="#484848" stroke-width="0.8" />
<line x1="736.50" y1="268.90" x2="729.50" y2="268.90" stroke="#484848" stroke-width="0.8" />
<text transform="translate(46.50,272.25) scale(0.935,1)" font-size="9.3" text-anchor="end" fill="#2a2a2a" stroke="#2a2a2a" stroke-width="0.25">300</text>
<line x1="50.50" y1="243.40" x2="57.50" y2="243.40" stroke="#484848" stroke-width="0.8" />
<line x1="736.50" y1="243.40" x2="729.50" y2="243.40" stroke="#484848" stroke-width="0.8" />
<text transform="translate(46.50,246.75) scale(0.935,1)" font-size="9.3" text-anchor="end" fill="#2a2a2a" stroke="#2a2a2a" stroke-width="0.25">400</text>
<line x1="50.50" y1="227.50" x2="50.50" y2="348.40" stroke="#484848" stroke-width="0.8" />
<line x1="736.50" y1="227.50" x2="736.50" y2="348.40" stroke="#484848" stroke-width="0.8" />
<line x1="50.50" y1="348.40" x2="736.50" y2="348.40" stroke="#484848" stroke-width="0.8" />
<line x1="50.00" y1="227.50" x2="737.00" y2="227.50" stroke="#8c8c8c" stroke-width="1.3" />
<text x="361.60" y="18.00" font-size="16.2" fill="#1a1a1a" textLength="41.4" lengthAdjust="spacingAndGlyphs">VS-LS</text>
<text x="361.60" y="217.50" font-size="16.2" fill="#1a1a1a" textLength="38.2" lengthAdjust="spacingAndGlyphs">P-Inv</text>
<text x="281.30" y="187.10" font-size="16.8" fill="#1a1a1a" textLength="167.0" lengthAdjust="spacingAndGlyphs">actual impact location</text>
<text x="281.30" y="388.20" font-size="16.8" fill="#1a1a1a" textLength="167.0" lengthAdjust="spacingAndGlyphs">actual impact location</text>
<text x="579.50" y="91.40" font-size="14.5" fill="#8a8a8a" textLength="98.2" lengthAdjust="spacingAndGlyphs">grid resolution</text>
<text x="582.50" y="326.70" font-size="14.5" fill="#8a8a8a" textLength="98.2" lengthAdjust="spacingAndGlyphs">grid resolution</text>
<text transform="translate(20.3,121.0) rotate(-90)" font-size="16.8" fill="#1a1a1a" textLength="83.6" lengthAdjust="spacingAndGlyphs">error (mm)</text>
<text transform="translate(20.3,322.6) rotate(-90)" font-size="16.8" fill="#1a1a1a" textLength="84.2" lengthAdjust="spacingAndGlyphs">error (mm)</text>
</svg>
</body></html>
